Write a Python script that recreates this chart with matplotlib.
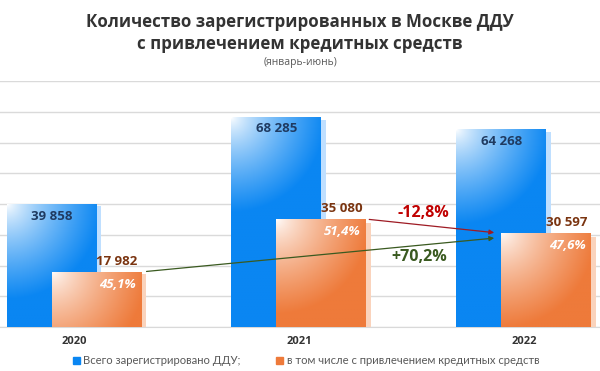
import numpy as np
import matplotlib
matplotlib.use("Agg")
import matplotlib.pyplot as plt
from matplotlib.patches import Patch
from matplotlib.colors import to_rgb

# данные
years = ["2020", "2021", "2022"]
total_ddu = [39858, 68285, 64268]
credit_ddu = [17982, 35080, 30597]
credit_share = ["45,1%", "51,4%", "47,6%"]
change_total = "+70,2%"
change_last = "-12,8%"
legend_labels = ["Всего зарегистрировано ДДУ;", "в том числе с привлечением кредитных средств"]

blue = "#0A86F2"
orange = "#EE7A3A"

fig = plt.figure(figsize=(6, 3.71), dpi=100)
ax = fig.add_axes([0, 1 - 327 / 371, 1, (327 - 81) / 371])

x = np.arange(len(years))
w = 0.4
off = 0.1


def gradient_bars(bars, color, zorder):
    base = np.array(to_rgb(color))
    for b in bars:
        x0, y0 = b.get_x(), b.get_y()
        x1, y1 = x0 + b.get_width(), y0 + b.get_height()
        # градиент из левого верхнего угла
        wpx, hpx = 90.0, max(b.get_height() * 0.003075, 1)
        u = np.linspace(0, 1, 60)[None, :] * wpx
        v = np.linspace(0, 1, 120)[:, None] * hpx
        d = np.sqrt(u ** 2 + v ** 2)
        t = np.clip(d / 95.0, 0, 1) ** 0.75
        img = (1 - t)[..., None] * np.array([1, 1, 1]) + t[..., None] * base
        im = ax.imshow(img, extent=[x0, x1, y0, y1], origin="upper", aspect="auto",
                       zorder=zorder, interpolation="bilinear")
        im.set_clip_path(b)


# тени
ax.bar(x - off + 0.02, np.array(total_ddu) * 0.985, w, color="#BFDFFF", zorder=2)
ax.bar(x + off + 0.02, np.array(credit_ddu) * 0.96, w, color="#FAD3BC", zorder=4)

b1 = ax.bar(x - off, total_ddu, w, color=blue, zorder=3)
gradient_bars(b1, blue, 3)
b2 = ax.bar(x + off, credit_ddu, w, color=orange, zorder=5)
gradient_bars(b2, orange, 5)

for i in range(len(years)):
    ax.annotate(f"{total_ddu[i]:,}".replace(",", " "), (x[i] - off, total_ddu[i]),
                xytext=(0, -8.5), textcoords="offset points", ha="center", va="center",
                fontsize=9.5, fontweight="bold", color="#1F3A60", family="Open Sans", zorder=7)
    ax.annotate(f"{credit_ddu[i]:,}".replace(",", " "), (x[i] + off, credit_ddu[i]),
                xytext=(14.5, 7.5), textcoords="offset points", ha="center", va="center",
                fontsize=9.5, fontweight="bold", color="#7A3410", family="Open Sans", zorder=7)
    ax.annotate(credit_share[i], (x[i] + off, credit_ddu[i]),
                xytext=(15, -9), textcoords="offset points", ha="center", va="center",
                fontsize=9.5, fontweight="bold", style="italic", color="white",
                family="Open Sans", zorder=7)

# стрелки
ax.annotate("", xy=(1.88, credit_ddu[2]), xytext=(x[1] + off + w / 2, credit_ddu[1]),
            arrowprops=dict(arrowstyle="-|>", color="#9E1B24", lw=0.9, mutation_scale=7),
            zorder=8)
ax.annotate("", xy=(1.88, 29000), xytext=(x[0] + off + w / 2 + 0.01, credit_ddu[0]),
            arrowprops=dict(arrowstyle="-|>", color="#3A5A20", lw=0.9, mutation_scale=7),
            zorder=8)
ax.text(1.553, 37070, change_last, ha="center", va="center", fontsize=11.5,
        fontweight="bold", color="#C00000", family="Open Sans", zorder=8)
ax.text(1.533, 22760, change_total, ha="center", va="center", fontsize=11.5,
        fontweight="bold", color="#3A5A20", family="Open Sans", zorder=8)

ax.set_xlim(-0.329, 2.338)
ax.set_ylim(0, 80000)
ax.set_yticks(np.arange(0, 80001, 10000))
ax.grid(axis="y", color="#DADADA", lw=1)
ax.set_axisbelow(True)
for s in ["top", "right", "left"]:
    ax.spines[s].set_visible(False)
ax.spines["bottom"].set_color("#D9D9D9")
ax.tick_params(left=False, labelleft=False, bottom=False, pad=3)
ax.set_xticks(x)
ax.set_xticklabels(years, fontsize=8, fontweight="bold", color="#333333", family="Open Sans")

fig.text(0.5, 1 - 22 / 371, "Количество зарегистрированных в Москве ДДУ", ha="center",
         va="center", fontsize=12.2, fontweight="bold", color="#333333", family="Open Sans")
fig.text(0.5, 1 - 44 / 371, "с привлечением кредитных средств", ha="center",
         va="center", fontsize=12.2, fontweight="bold", color="#333333", family="Open Sans")
fig.text(0.5, 1 - 63 / 371, "(январь-июнь)", ha="center", va="center", fontsize=7.5,
         color="#595959", family="Open Sans")

handles = [Patch(color=blue), Patch(color=orange)]
fig.legend(handles, legend_labels, loc="center", bbox_to_anchor=(0.51, 1 - 361 / 371),
           ncol=2, frameon=False, handlelength=0.6, handleheight=0.6,
           handletextpad=0.3, columnspacing=3.2, labelcolor="#595959",
           prop={"family": "Lato", "size": 8.1})

fig.savefig("out.png", dpi=100)
